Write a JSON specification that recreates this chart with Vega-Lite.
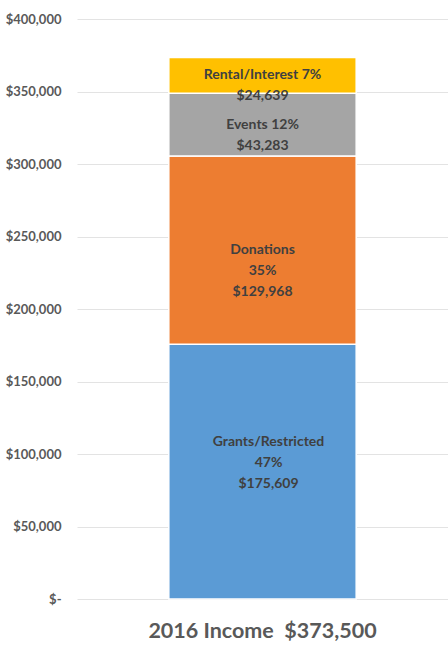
{
  "$schema": "https://vega.github.io/schema/vega-lite/v6.json",
  "width": 371,
  "height": 580,
  "autosize": "none",
  "padding": {"left": 77, "top": 19, "right": 0, "bottom": 46},
  "background": "white",
  "config": {"view": {"stroke": null}, "font": "Lato"},
  "data": {
    "values": [
      {"x": "2016 Income\u00a0 $373,500", "category": "Grants/Restricted", "order": 1, "amount": 175609, "label": "Grants/Restricted\n47%\n$175,609"},
      {"x": "2016 Income\u00a0 $373,500", "category": "Donations", "order": 2, "amount": 129968, "label": "Donations\n35%\n$129,968"},
      {"x": "2016 Income\u00a0 $373,500", "category": "Events", "order": 3, "amount": 43283, "label": "Events 12%\n$43,283"},
      {"x": "2016 Income\u00a0 $373,500", "category": "Rental/Interest", "order": 4, "amount": 24639, "label": "Rental/Interest 7%\n$24,639"}
    ]
  },
  "transform": [
    {"stack": "amount", "groupby": ["x"], "sort": [{"field": "order", "order": "ascending"}], "as": ["y0", "y1"]},
    {"calculate": "(datum.y0 + datum.y1) / 2", "as": "mid"}
  ],
  "encoding": {
    "x": {
      "field": "x", "type": "nominal", "title": null,
      "scale": {"paddingInner": 0, "paddingOuter": 0.49},
      "axis": {"domain": false, "ticks": false, "labelAngle": 0, "labelFontSize": 21.5, "labelFontWeight": "bold", "labelColor": "#595959", "labelPadding": 21, "labelLimit": 0, "labelFont": "Lato"}
    }
  },
  "layer": [
    {
      "mark": {"type": "bar", "stroke": "white", "strokeWidth": 1.5},
      "encoding": {
        "y": {
          "field": "y1", "type": "quantitative", "title": null,
          "scale": {"domain": [0, 400000]},
          "axis": {
            "values": [0, 50000, 100000, 150000, 200000, 250000, 300000, 350000, 400000],
            "labelExpr": "datum.value == 0 ? '$-   ' : '$' + format(datum.value, ',')",
            "domain": false, "ticks": false, "labelPadding": 16,
            "labelFontSize": 13, "labelFontWeight": "bold", "labelColor": "#595959",
            "gridColor": "#e3e3e3", "gridWidth": 1
          }
        },
        "y2": {"field": "y0"},
        "color": {
          "field": "category", "type": "nominal", "legend": null,
          "scale": {"domain": ["Grants/Restricted", "Donations", "Events", "Rental/Interest"], "range": ["#5B9BD5", "#ED7D31", "#A5A5A5", "#FFC000"]}
        }
      }
    },
    {
      "transform": [{"filter": "datum.category != 'Grants/Restricted'"}],
      "mark": {"type": "text", "lineBreak": "\n", "lineHeight": 21, "fontSize": 14, "fontWeight": "bold", "color": "#404040", "baseline": "middle", "align": "center"},
      "encoding": {
        "y": {"field": "mid", "type": "quantitative"},
        "text": {"field": "label"}
      }
    },
    {
      "transform": [{"filter": "datum.category == 'Grants/Restricted'"}],
      "mark": {"type": "text", "lineBreak": "\n", "lineHeight": 21, "fontSize": 14, "fontWeight": "bold", "color": "#404040", "baseline": "middle", "align": "center", "dy": -30, "dx": 6},
      "encoding": {
        "y": {"field": "mid", "type": "quantitative"},
        "text": {"field": "label"}
      }
    }
  ]
}
